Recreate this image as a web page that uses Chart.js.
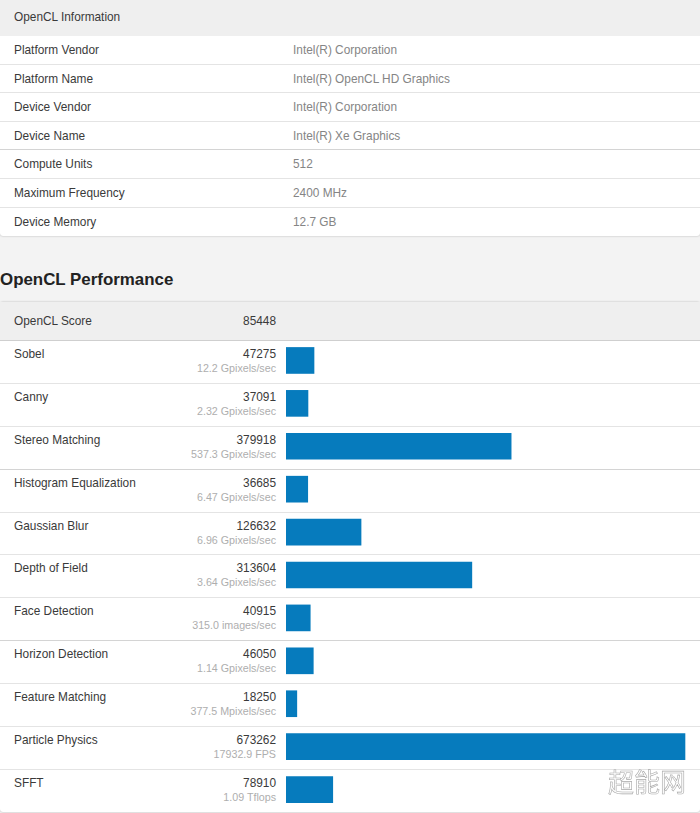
<!DOCTYPE html>
<html lang="en">
<head>
<meta charset="utf-8">
<title>OpenCL Performance</title>
<script src="https://cdn.jsdelivr.net/npm/chart.js@4/dist/chart.umd.min.js"></script>
<style>
  html, body { margin: 0; padding: 0; background: #f3f3f3; }
  body { position: relative; width: 700px; height: 813px; overflow: hidden;
    font: 11.85px "Liberation Sans", Arial, sans-serif; color: #3a3a3a; }
  .panel { position: absolute; left: 0; width: 700px; background: #fff; border-radius: 3px;
    box-shadow: 0 0 2px rgba(0,0,0,.3); }
  .head { background: #efefef; box-sizing: border-box; padding-left: 14px; position: relative; }
  .row { position: relative; box-sizing: border-box; border-bottom: 1px solid #e4e4e4; padding-left: 14px; }
  .row.strong { border-bottom-color: #d4d4d4; }
  .row:last-child { border-bottom: 0; }
  #info { top: 0; height: 236px; }
  #info .head { height: 36px; line-height: 35px; }
  #info .row { height: 28.6px; line-height: 29px; }
  #info .val { position: absolute; left: 293px; top: 0; color: #858585; }
  h2 { position: absolute; left: 0; top: 270px; margin: 0; font-size: 16.9px; line-height: 20px; color: #222; }
  #perf { top: 302px; height: 510px; }
  #perf .head { height: 39px; line-height: 38px; border-bottom: 1px solid #cfcfcf; }
  #perf .row { height: 42.9px; }
  .name { position: absolute; left: 14px; top: 6px; line-height: 15px; }
  .score { position: absolute; right: 424px; top: 6px; line-height: 15px; }
  .sub { position: absolute; right: 424px; top: 20px; line-height: 15px; color: #aeaeae; font-size: 10.7px; }
  #perf .head .score { top: 0; line-height: 38px; }
  #bars { position: absolute; left: 286px; top: 339px; width: 414px; height: 472px; }
  #mark { position: absolute; left: 608px; top: 762px; font: 26px "Noto Sans CJK SC", sans-serif;
    color: rgba(255,255,255,.4); -webkit-text-stroke: .6px #a8a8a8; }
</style>
</head>
<body>
<div class="panel" id="info"></div>
<h2>OpenCL Performance</h2>
<div class="panel" id="perf"></div>
<div id="bars"><canvas id="chart"></canvas></div>
<div id="mark">超能网</div>
<script>
const infoLabels = ['Platform Vendor', 'Platform Name', 'Device Vendor', 'Device Name', 'Compute Units', 'Maximum Frequency', 'Device Memory'];
const infoValues = ['Intel(R) Corporation', 'Intel(R) OpenCL HD Graphics', 'Intel(R) Corporation', 'Intel(R) Xe Graphics', '512', '2400 MHz', '12.7 GB'];

const categories = ['Sobel', 'Canny', 'Stereo Matching', 'Histogram Equalization', 'Gaussian Blur', 'Depth of Field', 'Face Detection', 'Horizon Detection', 'Feature Matching', 'Particle Physics', 'SFFT'];
const scores = [47275, 37091, 379918, 36685, 126632, 313604, 40915, 46050, 18250, 673262, 78910];
const rates = ['12.2 Gpixels/sec', '2.32 Gpixels/sec', '537.3 Gpixels/sec', '6.47 Gpixels/sec', '6.96 Gpixels/sec', '3.64 Gpixels/sec', '315.0 images/sec', '1.14 Gpixels/sec', '377.5 Mpixels/sec', '17932.9 FPS', '1.09 Tflops'];
const totalScore = 85448;

const $ = (id) => document.getElementById(id);

// ---------- tables ----------
$('info').innerHTML = '<div class="head">OpenCL Information</div>' + infoLabels.map((l, i) =>
  `<div class="row${i === 3 ? ' strong' : ''}">${l}<span class="val">${infoValues[i]}</span></div>`
).join('');

$('perf').innerHTML = `<div class="head">OpenCL Score<span class="score">${totalScore}</span></div>` + categories.map((c, i) => `
  <div class="row${i === 2 || i === 6 ? ' strong' : ''}">
    <span class="name">${c}</span>
    <span class="score">${scores[i]}</span>
    <span class="sub">${rates[i]}</span>
  </div>`).join('');

// ---------- bars ----------
new Chart($('chart'), {
  type: 'bar',
  data: { labels: categories, datasets: [{ data: scores, backgroundColor: '#067bbd', barThickness: 26 }] },
  options: {
    indexAxis: 'y',
    responsive: true,
    maintainAspectRatio: false,
    animation: false,
    layout: { padding: 0 },
    scales: {
      x: { display: false, min: 0, max: 698600 },
      y: { display: false },
    },
    plugins: { legend: { display: false }, tooltip: { enabled: false } },
  },
});
</script>
</body>
</html>
